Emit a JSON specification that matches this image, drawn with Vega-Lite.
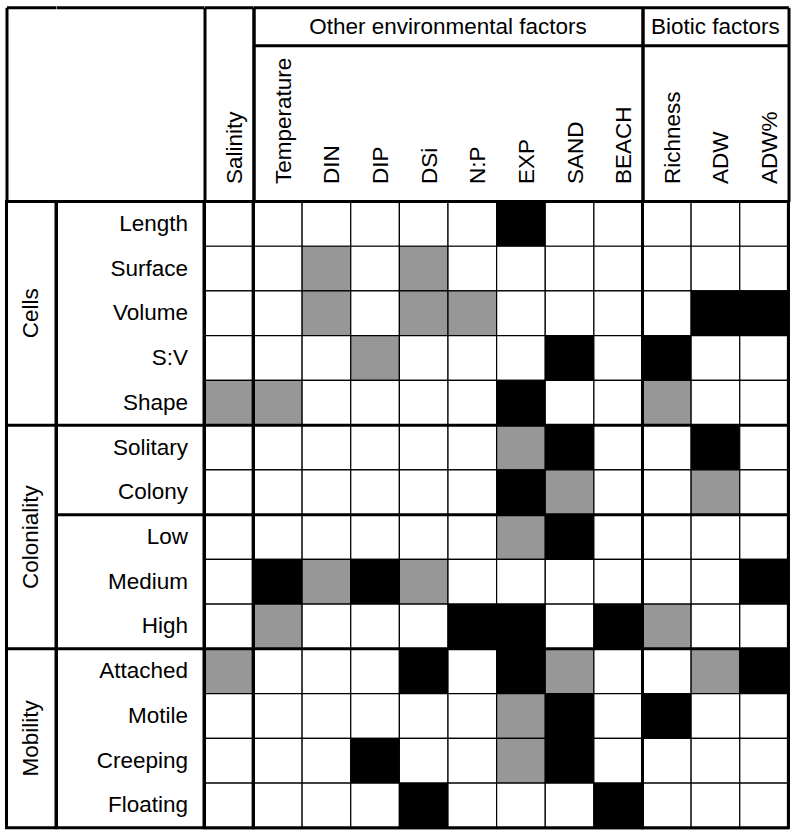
{
  "$schema": "https://vega.github.io/schema/vega-lite/v6.json",
  "background": "white",
  "padding": {"left": 3.5, "top": 3.5, "right": 4, "bottom": 5},
  "autosize": {"type": "pad"},
  "bounds": "flush",
  "spacing": 0,
  "config": {
    "font": "Liberation Sans",
    "view": {"stroke": "black", "strokeWidth": 3},
    "concat": {"spacing": 0},
    "axis": {"labelFont": "Liberation Sans", "labelColor": "black"}
  },
  "datasets": {
    "cells": [
      {"trait":"Length","factor":"Salinity","level":0},{"trait":"Length","factor":"Temperature","level":0},{"trait":"Length","factor":"DIN","level":0},{"trait":"Length","factor":"DIP","level":0},{"trait":"Length","factor":"DSi","level":0},{"trait":"Length","factor":"N:P","level":0},{"trait":"Length","factor":"EXP","level":2},{"trait":"Length","factor":"SAND","level":0},{"trait":"Length","factor":"BEACH","level":0},{"trait":"Length","factor":"Richness","level":0},{"trait":"Length","factor":"ADW","level":0},{"trait":"Length","factor":"ADW%","level":0},
      {"trait":"Surface","factor":"Salinity","level":0},{"trait":"Surface","factor":"Temperature","level":0},{"trait":"Surface","factor":"DIN","level":1},{"trait":"Surface","factor":"DIP","level":0},{"trait":"Surface","factor":"DSi","level":1},{"trait":"Surface","factor":"N:P","level":0},{"trait":"Surface","factor":"EXP","level":0},{"trait":"Surface","factor":"SAND","level":0},{"trait":"Surface","factor":"BEACH","level":0},{"trait":"Surface","factor":"Richness","level":0},{"trait":"Surface","factor":"ADW","level":0},{"trait":"Surface","factor":"ADW%","level":0},
      {"trait":"Volume","factor":"Salinity","level":0},{"trait":"Volume","factor":"Temperature","level":0},{"trait":"Volume","factor":"DIN","level":1},{"trait":"Volume","factor":"DIP","level":0},{"trait":"Volume","factor":"DSi","level":1},{"trait":"Volume","factor":"N:P","level":1},{"trait":"Volume","factor":"EXP","level":0},{"trait":"Volume","factor":"SAND","level":0},{"trait":"Volume","factor":"BEACH","level":0},{"trait":"Volume","factor":"Richness","level":0},{"trait":"Volume","factor":"ADW","level":2},{"trait":"Volume","factor":"ADW%","level":2},
      {"trait":"S:V","factor":"Salinity","level":0},{"trait":"S:V","factor":"Temperature","level":0},{"trait":"S:V","factor":"DIN","level":0},{"trait":"S:V","factor":"DIP","level":1},{"trait":"S:V","factor":"DSi","level":0},{"trait":"S:V","factor":"N:P","level":0},{"trait":"S:V","factor":"EXP","level":0},{"trait":"S:V","factor":"SAND","level":2},{"trait":"S:V","factor":"BEACH","level":0},{"trait":"S:V","factor":"Richness","level":2},{"trait":"S:V","factor":"ADW","level":0},{"trait":"S:V","factor":"ADW%","level":0},
      {"trait":"Shape","factor":"Salinity","level":1},{"trait":"Shape","factor":"Temperature","level":1},{"trait":"Shape","factor":"DIN","level":0},{"trait":"Shape","factor":"DIP","level":0},{"trait":"Shape","factor":"DSi","level":0},{"trait":"Shape","factor":"N:P","level":0},{"trait":"Shape","factor":"EXP","level":2},{"trait":"Shape","factor":"SAND","level":0},{"trait":"Shape","factor":"BEACH","level":0},{"trait":"Shape","factor":"Richness","level":1},{"trait":"Shape","factor":"ADW","level":0},{"trait":"Shape","factor":"ADW%","level":0},
      {"trait":"Solitary","factor":"Salinity","level":0},{"trait":"Solitary","factor":"Temperature","level":0},{"trait":"Solitary","factor":"DIN","level":0},{"trait":"Solitary","factor":"DIP","level":0},{"trait":"Solitary","factor":"DSi","level":0},{"trait":"Solitary","factor":"N:P","level":0},{"trait":"Solitary","factor":"EXP","level":1},{"trait":"Solitary","factor":"SAND","level":2},{"trait":"Solitary","factor":"BEACH","level":0},{"trait":"Solitary","factor":"Richness","level":0},{"trait":"Solitary","factor":"ADW","level":2},{"trait":"Solitary","factor":"ADW%","level":0},
      {"trait":"Colony","factor":"Salinity","level":0},{"trait":"Colony","factor":"Temperature","level":0},{"trait":"Colony","factor":"DIN","level":0},{"trait":"Colony","factor":"DIP","level":0},{"trait":"Colony","factor":"DSi","level":0},{"trait":"Colony","factor":"N:P","level":0},{"trait":"Colony","factor":"EXP","level":2},{"trait":"Colony","factor":"SAND","level":1},{"trait":"Colony","factor":"BEACH","level":0},{"trait":"Colony","factor":"Richness","level":0},{"trait":"Colony","factor":"ADW","level":1},{"trait":"Colony","factor":"ADW%","level":0},
      {"trait":"Low","factor":"Salinity","level":0},{"trait":"Low","factor":"Temperature","level":0},{"trait":"Low","factor":"DIN","level":0},{"trait":"Low","factor":"DIP","level":0},{"trait":"Low","factor":"DSi","level":0},{"trait":"Low","factor":"N:P","level":0},{"trait":"Low","factor":"EXP","level":1},{"trait":"Low","factor":"SAND","level":2},{"trait":"Low","factor":"BEACH","level":0},{"trait":"Low","factor":"Richness","level":0},{"trait":"Low","factor":"ADW","level":0},{"trait":"Low","factor":"ADW%","level":0},
      {"trait":"Medium","factor":"Salinity","level":0},{"trait":"Medium","factor":"Temperature","level":2},{"trait":"Medium","factor":"DIN","level":1},{"trait":"Medium","factor":"DIP","level":2},{"trait":"Medium","factor":"DSi","level":1},{"trait":"Medium","factor":"N:P","level":0},{"trait":"Medium","factor":"EXP","level":0},{"trait":"Medium","factor":"SAND","level":0},{"trait":"Medium","factor":"BEACH","level":0},{"trait":"Medium","factor":"Richness","level":0},{"trait":"Medium","factor":"ADW","level":0},{"trait":"Medium","factor":"ADW%","level":2},
      {"trait":"High","factor":"Salinity","level":0},{"trait":"High","factor":"Temperature","level":1},{"trait":"High","factor":"DIN","level":0},{"trait":"High","factor":"DIP","level":0},{"trait":"High","factor":"DSi","level":0},{"trait":"High","factor":"N:P","level":2},{"trait":"High","factor":"EXP","level":2},{"trait":"High","factor":"SAND","level":0},{"trait":"High","factor":"BEACH","level":2},{"trait":"High","factor":"Richness","level":1},{"trait":"High","factor":"ADW","level":0},{"trait":"High","factor":"ADW%","level":0},
      {"trait":"Attached","factor":"Salinity","level":1},{"trait":"Attached","factor":"Temperature","level":0},{"trait":"Attached","factor":"DIN","level":0},{"trait":"Attached","factor":"DIP","level":0},{"trait":"Attached","factor":"DSi","level":2},{"trait":"Attached","factor":"N:P","level":0},{"trait":"Attached","factor":"EXP","level":2},{"trait":"Attached","factor":"SAND","level":1},{"trait":"Attached","factor":"BEACH","level":0},{"trait":"Attached","factor":"Richness","level":0},{"trait":"Attached","factor":"ADW","level":1},{"trait":"Attached","factor":"ADW%","level":2},
      {"trait":"Motile","factor":"Salinity","level":0},{"trait":"Motile","factor":"Temperature","level":0},{"trait":"Motile","factor":"DIN","level":0},{"trait":"Motile","factor":"DIP","level":0},{"trait":"Motile","factor":"DSi","level":0},{"trait":"Motile","factor":"N:P","level":0},{"trait":"Motile","factor":"EXP","level":1},{"trait":"Motile","factor":"SAND","level":2},{"trait":"Motile","factor":"BEACH","level":0},{"trait":"Motile","factor":"Richness","level":2},{"trait":"Motile","factor":"ADW","level":0},{"trait":"Motile","factor":"ADW%","level":0},
      {"trait":"Creeping","factor":"Salinity","level":0},{"trait":"Creeping","factor":"Temperature","level":0},{"trait":"Creeping","factor":"DIN","level":0},{"trait":"Creeping","factor":"DIP","level":2},{"trait":"Creeping","factor":"DSi","level":0},{"trait":"Creeping","factor":"N:P","level":0},{"trait":"Creeping","factor":"EXP","level":1},{"trait":"Creeping","factor":"SAND","level":2},{"trait":"Creeping","factor":"BEACH","level":0},{"trait":"Creeping","factor":"Richness","level":0},{"trait":"Creeping","factor":"ADW","level":0},{"trait":"Creeping","factor":"ADW%","level":0},
      {"trait":"Floating","factor":"Salinity","level":0},{"trait":"Floating","factor":"Temperature","level":0},{"trait":"Floating","factor":"DIN","level":0},{"trait":"Floating","factor":"DIP","level":0},{"trait":"Floating","factor":"DSi","level":2},{"trait":"Floating","factor":"N:P","level":0},{"trait":"Floating","factor":"EXP","level":0},{"trait":"Floating","factor":"SAND","level":0},{"trait":"Floating","factor":"BEACH","level":2},{"trait":"Floating","factor":"Richness","level":0},{"trait":"Floating","factor":"ADW","level":0},{"trait":"Floating","factor":"ADW%","level":0}
    ]
  },
  "hconcat": [
    {
      "width": 49.5, "height": 626.3,
      "layer": [
        {
          "data": {"values": [{"group": "Cells", "trait": "Volume"}, {"group": "Coloniality", "trait": "Low"}]},
          "mark": {"type": "text", "angle": 270, "align": "center", "baseline": "middle", "fontSize": 22.5, "color": "black"},
          "encoding": {
            "y": {"field": "trait", "type": "nominal", "axis": null, "scale": {"type": "band", "paddingInner": 0, "paddingOuter": 0, "domain": ["Length","Surface","Volume","S:V","Shape","Solitary","Colony","Low","Medium","High","Attached","Motile","Creeping","Floating"]}},
            "text": {"field": "group"}
          }
        },
        {
          "data": {"values": [{"group": "Mobility", "trait": "Creeping"}]},
          "mark": {"type": "text", "angle": 270, "align": "center", "baseline": "middle", "fontSize": 22.5, "color": "black"},
          "encoding": {
            "y": {"field": "trait", "type": "nominal", "bandPosition": 0, "axis": null, "scale": {"type": "band", "paddingInner": 0, "paddingOuter": 0, "domain": ["Length","Surface","Volume","S:V","Shape","Solitary","Colony","Low","Medium","High","Attached","Motile","Creeping","Floating"]}},
            "text": {"field": "group"}
          }
        },
        {
          "data": {"values": [{"trait": "Solitary"}, {"trait": "Attached"}]},
          "mark": {"type": "rule", "strokeWidth": 3, "color": "black"},
          "encoding": {
            "y": {"field": "trait", "type": "nominal", "bandPosition": 0, "axis": null, "scale": {"type": "band", "paddingInner": 0, "paddingOuter": 0, "domain": ["Length","Surface","Volume","S:V","Shape","Solitary","Colony","Low","Medium","High","Attached","Motile","Creeping","Floating"]}}
          }
        },
        {
          "data": {"values": [{"span": "corner"}]},
          "mark": {"type": "text"},
          "encoding": {
            "x": {"field": "span", "type": "nominal", "scale": {"type": "band", "paddingInner": 0, "paddingOuter": 0},
              "axis": {"orient": "top", "title": null, "domain": false, "labels": false, "ticks": true, "tickSize": 194.2, "tickWidth": 3, "tickColor": "black", "bandPosition": 0}},
            "text": {"value": ""}
          }
        },
        {
          "data": {"values": [{"frame": "top"}]},
          "mark": {"type": "text"},
          "encoding": {
            "x": {"field": "frame", "type": "nominal", "scale": {"type": "band", "paddingInner": 0, "paddingOuter": 0},
              "axis": {"orient": "top", "offset": 194.2, "title": null, "domain": true, "domainWidth": 3, "domainColor": "black", "ticks": false, "labels": false}},
            "text": {"value": ""}
          }
        }
      ],
      "resolve": {"scale": {"x": "independent"}, "axis": {"x": "independent"}}
    },
    {
      "width": 147.5, "height": 626.3,
      "layer": [
        {
          "data": {"values": [{"trait": "Solitary"}, {"trait": "Low"}, {"trait": "Attached"}]},
          "mark": {"type": "rule", "strokeWidth": 3, "color": "black"},
          "encoding": {
            "y": {"field": "trait", "type": "nominal", "bandPosition": 0, "axis": null, "scale": {"type": "band", "paddingInner": 0, "paddingOuter": 0, "domain": ["Length","Surface","Volume","S:V","Shape","Solitary","Colony","Low","Medium","High","Attached","Motile","Creeping","Floating"]}}
          }
        },
        {
          "data": {"values": [{"frame": "top"}]},
          "mark": {"type": "text"},
          "encoding": {
            "x": {"field": "frame", "type": "nominal", "scale": {"type": "band", "paddingInner": 0, "paddingOuter": 0},
              "axis": {"orient": "top", "offset": 194.2, "title": null, "domain": true, "domainWidth": 3, "domainColor": "black", "ticks": false, "labels": false}},
            "text": {"value": ""}
          }
        }
      ]
    },
    {
      "width": 48.625, "height": 626.3,
      "layer": [
        {
          "layer": [
            {
              "data": {"name": "cells"},
              "transform": [{"filter": {"field": "factor", "equal": "Salinity"}}],
              "mark": {"type": "rect", "stroke": "black", "strokeWidth": 1.2},
              "encoding": {
                "x": {"field": "factor", "type": "nominal", "scale": {"type": "band", "paddingInner": 0, "paddingOuter": 0, "domain": ["Salinity"]},
                  "axis": {"orient": "top", "title": null, "ticks": false, "domain": false, "labelAngle": 270, "labelAlign": "left", "labelBaseline": "middle", "labelPadding": 18, "labelOffset": 6, "labelFontSize": 22.5, "labelColor": "black", "labelOverlap": false, "labelLimit": 400}},
                "y": {"field": "trait", "type": "nominal", "scale": {"type": "band", "paddingInner": 0, "paddingOuter": 0, "domain": ["Length","Surface","Volume","S:V","Shape","Solitary","Colony","Low","Medium","High","Attached","Motile","Creeping","Floating"]},
                  "axis": {"orient": "left", "title": null, "ticks": false, "domain": false, "labelPadding": 17, "labelFontSize": 22.5, "labelColor": "black", "labelAlign": "right", "labelBaseline": "middle", "labelLimit": 400}},
                "fill": {"field": "level", "type": "ordinal", "scale": {"domain": [0, 1, 2], "range": ["#ffffff", "#979797", "#000000"]}, "legend": null}
              }
            },
            {
              "data": {"values": [{"trait": "Length"}, {"trait": "Solitary"}, {"trait": "Low"}, {"trait": "Attached"}]},
              "mark": {"type": "rule", "strokeWidth": 3, "color": "black"},
              "encoding": {"y": {"field": "trait", "type": "nominal", "bandPosition": 0}}
            },
            {
              "data": {"values": [{}]},
              "mark": {"type": "rule", "strokeWidth": 3, "color": "black"},
              "encoding": {"y": {"datum": "Floating", "bandPosition": 1}}
            },
            {
              "data": {"values": [{}]},
              "mark": {"type": "rule", "strokeWidth": 3, "color": "black"},
              "encoding": {"x": {"datum": "Salinity", "bandPosition": 0}}
            },
            {
              "data": {"values": [{}]},
              "mark": {"type": "rule", "strokeWidth": 3, "color": "black"},
              "encoding": {"x": {"datum": "Salinity", "bandPosition": 1}}
            }
          ]
        },
        {
          "data": {"values": [{"span": "Salinity"}]},
          "mark": {"type": "text"},
          "encoding": {
            "x": {"field": "span", "type": "nominal", "scale": {"type": "band", "paddingInner": 0, "paddingOuter": 0},
              "axis": {"orient": "top", "title": null, "domain": false, "labels": false, "ticks": true, "tickSize": 194.2, "tickWidth": 3, "tickColor": "black", "tickBand": "extent"}},
            "text": {"value": ""}
          }
        },
        {
          "data": {"values": [{"frame": "top"}]},
          "mark": {"type": "text"},
          "encoding": {
            "x": {"field": "frame", "type": "nominal", "scale": {"type": "band", "paddingInner": 0, "paddingOuter": 0},
              "axis": {"orient": "top", "offset": 194.2, "title": null, "domain": true, "domainWidth": 3, "domainColor": "black", "ticks": false, "labels": false}},
            "text": {"value": ""}
          }
        }
      ],
      "resolve": {"scale": {"x": "independent"}, "axis": {"x": "independent"}}
    },
    {
      "width": 389, "height": 626.3,
      "layer": [
        {
          "layer": [
            {
              "data": {"name": "cells"},
              "transform": [{"filter": {"field": "factor", "oneOf": ["Temperature","DIN","DIP","DSi","N:P","EXP","SAND","BEACH"]}}],
              "mark": {"type": "rect", "stroke": "black", "strokeWidth": 1.2},
              "encoding": {
                "x": {"field": "factor", "type": "nominal", "scale": {"type": "band", "paddingInner": 0, "paddingOuter": 0, "domain": ["Temperature","DIN","DIP","DSi","N:P","EXP","SAND","BEACH"]},
                  "axis": {"orient": "top", "title": null, "ticks": false, "domain": false, "labelAngle": 270, "labelAlign": "left", "labelBaseline": "middle", "labelPadding": 18, "labelOffset": 6, "labelFontSize": 22.5, "labelColor": "black", "labelOverlap": false, "labelLimit": 400}},
                "y": {"field": "trait", "type": "nominal", "scale": {"type": "band", "paddingInner": 0, "paddingOuter": 0, "domain": ["Length","Surface","Volume","S:V","Shape","Solitary","Colony","Low","Medium","High","Attached","Motile","Creeping","Floating"]}, "axis": null},
                "fill": {"field": "level", "type": "ordinal", "scale": {"domain": [0, 1, 2], "range": ["#ffffff", "#979797", "#000000"]}, "legend": null}
              }
            },
            {
              "data": {"values": [{"trait": "Length"}, {"trait": "Solitary"}, {"trait": "Low"}, {"trait": "Attached"}]},
              "mark": {"type": "rule", "strokeWidth": 3, "color": "black"},
              "encoding": {"y": {"field": "trait", "type": "nominal", "bandPosition": 0}}
            },
            {
              "data": {"values": [{}]},
              "mark": {"type": "rule", "strokeWidth": 3, "color": "black"},
              "encoding": {"y": {"datum": "Floating", "bandPosition": 1}}
            },
            {
              "data": {"values": [{}]},
              "mark": {"type": "rule", "strokeWidth": 3, "color": "black"},
              "encoding": {"x": {"datum": "Temperature", "bandPosition": 0}}
            },
            {
              "data": {"values": [{}]},
              "mark": {"type": "rule", "strokeWidth": 3, "color": "black"},
              "encoding": {"x": {"datum": "BEACH", "bandPosition": 1}}
            }
          ]
        },
        {
          "data": {"values": [{"span": "environment"}]},
          "mark": {"type": "text"},
          "encoding": {
            "x": {"field": "span", "type": "nominal", "scale": {"type": "band", "paddingInner": 0, "paddingOuter": 0},
              "axis": {"orient": "top", "title": null, "domain": false, "labels": false, "ticks": true, "tickSize": 194.2, "tickWidth": 3, "tickColor": "black", "tickBand": "extent"}},
            "text": {"value": ""}
          }
        },
        {
          "data": {"values": [{"heading": "Other environmental factors"}]},
          "mark": {"type": "text"},
          "encoding": {
            "x": {"field": "heading", "type": "nominal", "scale": {"type": "band", "paddingInner": 0, "paddingOuter": 0},
              "axis": {"orient": "top", "offset": 156.2, "title": null, "domain": true, "domainWidth": 3, "domainColor": "black", "ticks": false, "labelAngle": 0, "labelAlign": "center", "labelBaseline": "middle", "labelPadding": 19, "labelFontSize": 22.5, "labelColor": "black", "labelLimit": 400}},
            "text": {"value": ""}
          }
        },
        {
          "data": {"values": [{"frame": "top"}]},
          "mark": {"type": "text"},
          "encoding": {
            "x": {"field": "frame", "type": "nominal", "scale": {"type": "band", "paddingInner": 0, "paddingOuter": 0},
              "axis": {"orient": "top", "offset": 194.2, "title": null, "domain": true, "domainWidth": 3, "domainColor": "black", "ticks": false, "labels": false}},
            "text": {"value": ""}
          }
        }
      ],
      "resolve": {"scale": {"x": "independent"}, "axis": {"x": "independent"}}
    },
    {
      "width": 145.875, "height": 626.3,
      "layer": [
        {
          "layer": [
            {
              "data": {"name": "cells"},
              "transform": [{"filter": {"field": "factor", "oneOf": ["Richness","ADW","ADW%"]}}],
              "mark": {"type": "rect", "stroke": "black", "strokeWidth": 1.2},
              "encoding": {
                "x": {"field": "factor", "type": "nominal", "scale": {"type": "band", "paddingInner": 0, "paddingOuter": 0, "domain": ["Richness","ADW","ADW%"]},
                  "axis": {"orient": "top", "title": null, "ticks": false, "domain": false, "labelAngle": 270, "labelAlign": "left", "labelBaseline": "middle", "labelPadding": 18, "labelOffset": 6, "labelFontSize": 22.5, "labelColor": "black", "labelOverlap": false, "labelLimit": 400}},
                "y": {"field": "trait", "type": "nominal", "scale": {"type": "band", "paddingInner": 0, "paddingOuter": 0, "domain": ["Length","Surface","Volume","S:V","Shape","Solitary","Colony","Low","Medium","High","Attached","Motile","Creeping","Floating"]}, "axis": null},
                "fill": {"field": "level", "type": "ordinal", "scale": {"domain": [0, 1, 2], "range": ["#ffffff", "#979797", "#000000"]}, "legend": null}
              }
            },
            {
              "data": {"values": [{"trait": "Length"}, {"trait": "Solitary"}, {"trait": "Low"}, {"trait": "Attached"}]},
              "mark": {"type": "rule", "strokeWidth": 3, "color": "black"},
              "encoding": {"y": {"field": "trait", "type": "nominal", "bandPosition": 0}}
            },
            {
              "data": {"values": [{}]},
              "mark": {"type": "rule", "strokeWidth": 3, "color": "black"},
              "encoding": {"y": {"datum": "Floating", "bandPosition": 1}}
            },
            {
              "data": {"values": [{}]},
              "mark": {"type": "rule", "strokeWidth": 3, "color": "black"},
              "encoding": {"x": {"datum": "Richness", "bandPosition": 0}}
            },
            {
              "data": {"values": [{}]},
              "mark": {"type": "rule", "strokeWidth": 3, "color": "black"},
              "encoding": {"x": {"datum": "ADW%", "bandPosition": 1}}
            }
          ]
        },
        {
          "data": {"values": [{"span": "biotic"}]},
          "mark": {"type": "text"},
          "encoding": {
            "x": {"field": "span", "type": "nominal", "scale": {"type": "band", "paddingInner": 0, "paddingOuter": 0},
              "axis": {"orient": "top", "title": null, "domain": false, "labels": false, "ticks": true, "tickSize": 194.2, "tickWidth": 3, "tickColor": "black", "tickBand": "extent"}},
            "text": {"value": ""}
          }
        },
        {
          "data": {"values": [{"heading": "Biotic factors"}]},
          "mark": {"type": "text"},
          "encoding": {
            "x": {"field": "heading", "type": "nominal", "scale": {"type": "band", "paddingInner": 0, "paddingOuter": 0},
              "axis": {"orient": "top", "offset": 156.2, "title": null, "domain": true, "domainWidth": 3, "domainColor": "black", "ticks": false, "labelAngle": 0, "labelAlign": "center", "labelBaseline": "middle", "labelPadding": 19, "labelFontSize": 22.5, "labelColor": "black", "labelLimit": 400}},
            "text": {"value": ""}
          }
        },
        {
          "data": {"values": [{"frame": "top"}]},
          "mark": {"type": "text"},
          "encoding": {
            "x": {"field": "frame", "type": "nominal", "scale": {"type": "band", "paddingInner": 0, "paddingOuter": 0},
              "axis": {"orient": "top", "offset": 194.2, "title": null, "domain": true, "domainWidth": 3, "domainColor": "black", "ticks": false, "labels": false}},
            "text": {"value": ""}
          }
        }
      ],
      "resolve": {"scale": {"x": "independent"}, "axis": {"x": "independent"}}
    }
  ]
}
